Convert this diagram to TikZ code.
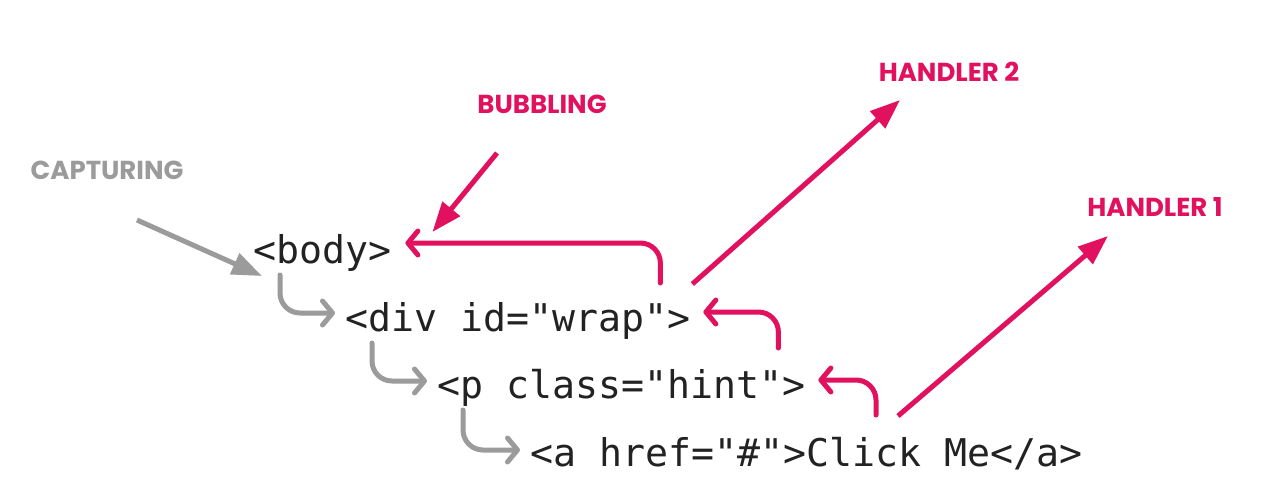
\documentclass[tikz,border=0pt]{standalone}
\usepackage{fontspec}
\setmonofont{DejaVu Sans Mono}
\setsansfont{Poppins}
\usetikzlibrary{arrows.meta}
\definecolor{bubble}{HTML}{E2115F}
\definecolor{capture}{HTML}{9B9B9B}
\definecolor{ink}{HTML}{222222}
\begin{document}
\begin{tikzpicture}[x=1pt,y=-1pt,
    code/.style={anchor=base west,inner sep=0,text=ink,font=\ttfamily\fontsize{38.2}{40}\selectfont},
    phase/.style={inner sep=0,font=\sffamily\bfseries\fontsize{26}{30}\selectfont},
    hook/.style={line width=5pt,rounded corners=20pt,line cap=round,-{Straight Barb[length=10pt,width=24pt,line cap=round,line join=round]}},
    pointer/.style={line width=5pt,-{Triangle[length=30pt,width=22pt]}}]
    \fill[white] (0,0) rectangle (1282,488);
    \useasboundingbox (0,0) rectangle (1282,488);
    % the markup
    \node[code] (body) at (253,263) {<body>};
    \node[code] (divw) at (345,331) {<div id="wrap">};
    \node[code] (hint) at (437,398) {<p class="hint">};
    \node[code] (link) at (530,466) {<a href="\#">Click Me</a>};
    % phases
    \node[phase,text=capture] (capt) at (107,170) {CAPTURING};
    \node[phase,text=bubble] (bubb) at (542,104) {BUBBLING};
    \node[phase,text=bubble] (hand2) at (949,72) {HANDLER 2};
    \node[phase,text=bubble] (hand1) at (1155,207) {HANDLER 1};
    % capturing goes down
    \draw[pointer,capture] ([shift={(30,50)}]capt.center) -- ([shift={(9,13)}]body.base west);
    \draw[hook,capture] ([shift={(27,12)}]body.base west) |- ([shift={(-10,-18)}]divw.base west);
    \draw[hook,capture] ([shift={(27,12)}]divw.base west) |- ([shift={(-10,-17)}]hint.base west);
    \draw[hook,capture] ([shift={(26,12)}]hint.base west) |- ([shift={(-10,-16)}]link.base west);
    % bubbling goes up
    \draw[pointer,bubble] ([shift={(-45,49)}]bubb.center) -- ([shift={(41,-31)}]body.base east);
    \draw[hook,bubble] ([shift={(-30,-48)}]divw.base east) |- ([shift={(14,-20)}]body.base east);
    \draw[hook,bubble] ([shift={(-27,-50)}]hint.base east) |- ([shift={(13,-19)}]divw.base east);
    \draw[hook,bubble] ([shift={(346,-51)}]link.base west) |- ([shift={(13,-18)}]hint.base east);
    \draw[pointer,bubble] ([shift={(2,-47)}]divw.base east) -- ([shift={(-49,28)}]hand2.center);
    \draw[pointer,bubble] ([shift={(368,-50)}]link.base west) -- ([shift={(-47,29)}]hand1.center);
\end{tikzpicture}
\end{document}
